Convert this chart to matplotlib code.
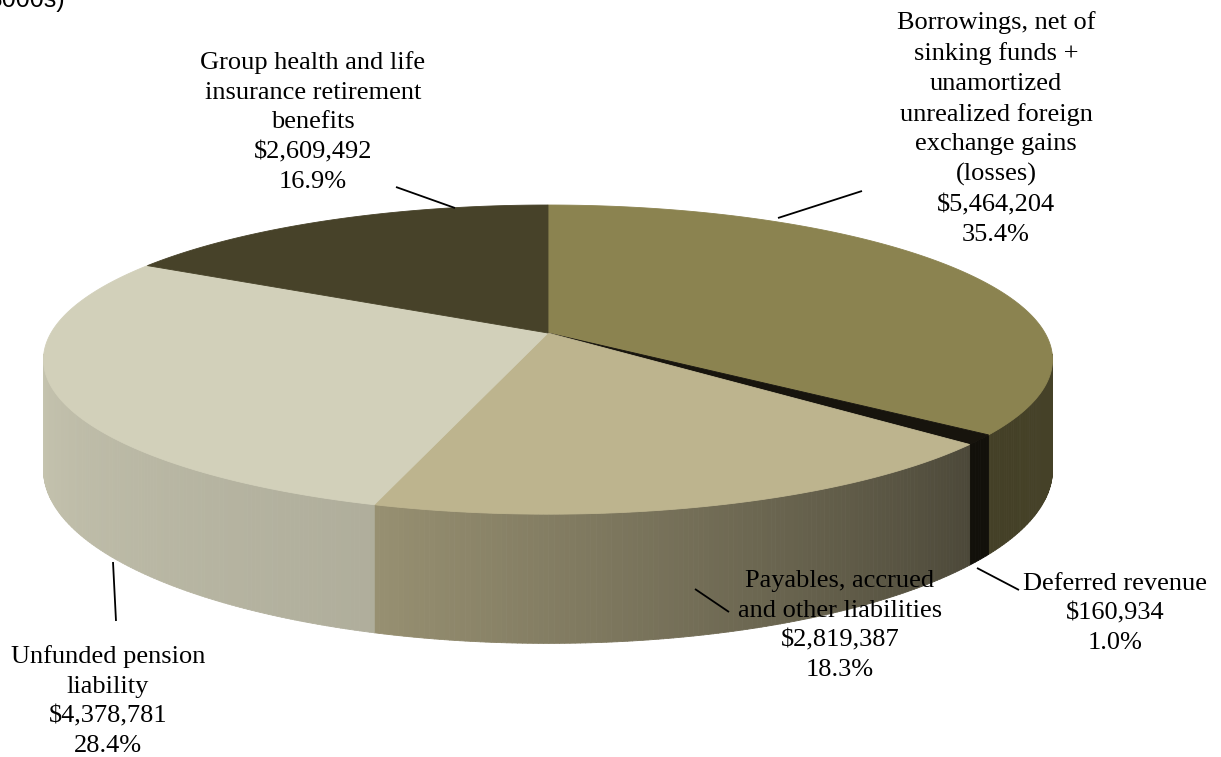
import numpy as np
import matplotlib.pyplot as plt
from matplotlib.collections import PolyCollection
from matplotlib.patches import Polygon

plt.rcParams.update({
    "font.family": ["Liberation Serif", "DejaVu Serif"],
    "font.size": 19,
})

# --- data (thousands of dollars) ---
categories = [
    "Borrowings, net of\nsinking funds +\nunamortized\nunrealized foreign\nexchange gains\n(losses)",
    "Deferred revenue",
    "Payables, accrued\nand other liabilities",
    "Unfunded pension\nliability",
    "Group health and life\ninsurance retirement\nbenefits",
]
amounts = [5464204, 160934, 2819387, 4378781, 2609492]

top_colors = ["#8B8350", "#17140D", "#BDB48E", "#D2D0BA", "#474229"]
# side shading (start, end) along the visible rim, clockwise
side_shade = [(0.50, 0.49), (0.80, 0.80), (0.40, 0.80), (0.835, 0.94), (0.9, 0.9)]

# label anchor (pixels, top-centre) and leader line (x0, y0, x1, y1)
label_pos = [(996, 11), (1115, 573), (840, 570), (108, 645), (313, 51)]
leaders = [(778, 218, 862, 191), (977, 568, 1019, 590), (695, 589, 729, 612),
           (113, 562, 116, 621), (396, 187, 455, 208)]

# --- projection of the tilted disc ---
CX, CY = 548, 333
A, B, K = 497, 150, 0.172
DEPTH = 107


def proj(theta_deg, depth=0.0):
    t = np.radians(theta_deg)
    u, v = np.sin(t), np.cos(t)
    s = 1.0 / (1.0 + K * v)
    return CX + A * u * s, CY + (-B * v + depth) * s


def shade(color, f):
    r, g, b = [int(color[i:i + 2], 16) / 255 for i in (1, 3, 5)]
    return (r * f, g * f, b * f)


total = sum(amounts)
fracs = [a / total for a in amounts]
bounds = np.concatenate([[0], np.cumsum(fracs) * 360])

fig = plt.figure(figsize=(12.21, 7.57), dpi=100)
ax = fig.add_axes([0, 0, 1, 1])
ax.set_xlim(0, 1221)
ax.set_ylim(757, 0)
ax.axis("off")

# visible side wall: front half of the disc
vis_lo = 90 + np.degrees(np.arcsin(K))
vis_hi = 270 - np.degrees(np.arcsin(K))
polys, cols = [], []
for i in range(len(amounts)):
    t0, t1 = max(bounds[i], vis_lo - 2), min(bounds[i + 1], vis_hi + 2)
    if t1 <= t0:
        continue
    n = max(2, int((t1 - t0) / 0.5))
    ts = np.linspace(t0, t1, n + 1)
    f0, f1 = side_shade[i]
    lo, hi = max(bounds[i], vis_lo), min(bounds[i + 1], vis_hi)
    for a, b in zip(ts[:-1], ts[1:]):
        p1, p2 = proj(a), proj(b)
        p3, p4 = proj(b, DEPTH), proj(a, DEPTH)
        polys.append([p1, p2, p3, p4])
        mid = ((a + b) / 2 - lo) / max(hi - lo, 1e-6)
        mid = min(max(mid, 0), 1)
        cols.append(shade(top_colors[i], f0 + (f1 - f0) * mid))
ax.add_collection(PolyCollection(polys, facecolors=cols, edgecolors=cols, linewidths=0.6))

# top face wedges
for i in range(len(amounts)):
    ts = np.linspace(bounds[i], bounds[i + 1], max(3, int((bounds[i + 1] - bounds[i]) * 2)))
    pts = [(CX, CY)] + [proj(t) for t in ts]
    ax.add_patch(Polygon(pts, closed=True, facecolor=top_colors[i],
                         edgecolor=top_colors[i], linewidth=0.6))

# labels and leader lines
for i, name in enumerate(categories):
    txt = f"{name}\n${amounts[i]:,}\n{fracs[i] * 100:.1f}%"
    x, y = label_pos[i]
    ax.text(x, y, txt, ha="center", va="top", multialignment="center",
            fontsize=19, linespacing=1.45, color="black")
    x0, y0, x1, y1 = leaders[i]
    ax.plot([x0, x1], [y0, y1], color="black", lw=1.3, solid_capstyle="butt")

# unit caption, partly outside the canvas
fig.text(65 / 1221, 1 - 7 / 757, "(in $000s)", ha="right", va="baseline",
         fontsize=18, family="Liberation Sans")

fig.savefig("out.png", dpi=100)
